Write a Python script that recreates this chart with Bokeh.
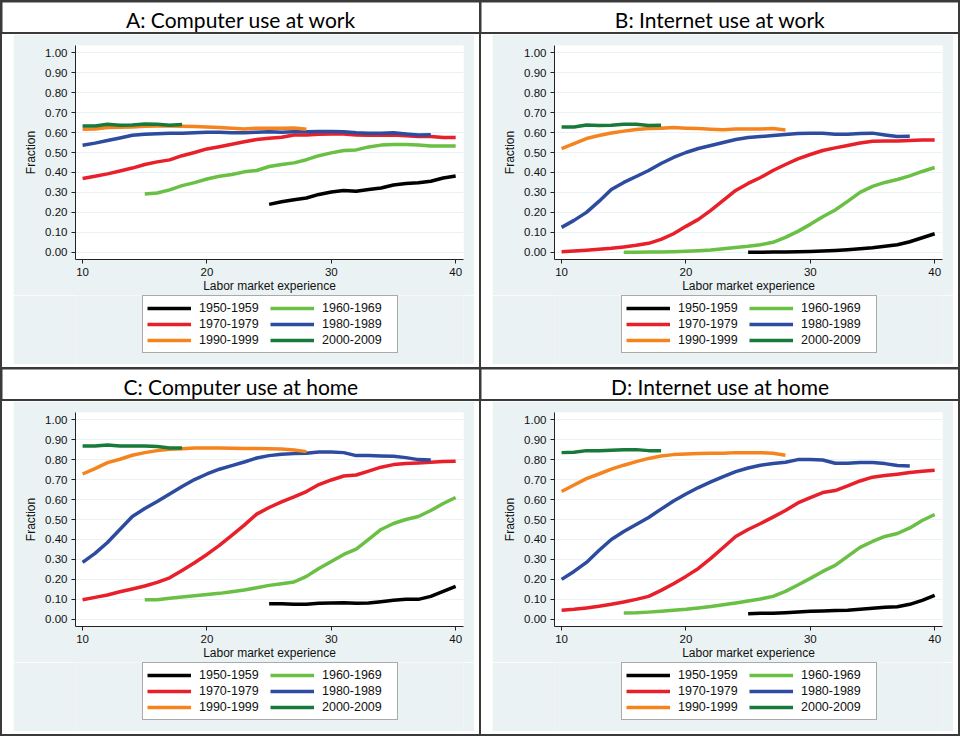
from bokeh.plotting import figure
from bokeh.models import Range1d, Legend, LegendItem, FixedTicker, NumeralTickFormatter, Column, Row
from bokeh.core.properties import value
from bokeh.embed import file_html
from bokeh.resources import INLINE

cohorts = ["1950-1959", "1960-1969", "1970-1979", "1980-1989", "1990-1999", "2000-2009"]
colors = ["#000000", "#6ABF45", "#E8202A", "#2D4B9F", "#F5841F", "#177A3A"]
legend_order = [0, 2, 4, 1, 3, 5]  # fills the 2-column legend row by row

exp_50s = list(range(25, 41))
exp_60s = list(range(15, 41))
exp_70s = list(range(10, 41))
exp_80s = list(range(10, 39))
exp_90s = list(range(10, 29))
exp_00s = list(range(10, 19))

x_ticks = [10, 20, 30, 40]
y_ticks = [0.0, 0.1, 0.2, 0.3, 0.4, 0.5, 0.6, 0.7, 0.8, 0.9, 1.0]

# A: Computer use at work
a50 = [.240, .253, .263, .272, .290, .302, .310, .306, .315, .322, .337, .345, .348, .356, .372, .382]
a60 = [.292, .297, .313, .334, .349, .367, .381, .390, .403, .410, .430, .440, .448, .464, .484, .498,
       .510, .513, .528, .537, .540, .540, .537, .532, .532, .532]
a70 = [.370, .381, .393, .407, .422, .440, .453, .463, .484, .500, .518, .529, .541, .554, .565, .571,
       .576, .588, .588, .591, .593, .593, .588, .586, .586, .588, .584, .580, .580, .575, .575]
a80 = [.536, .547, .560, .573, .586, .591, .594, .596, .596, .599, .602, .602, .599, .599, .602, .604,
       .602, .604, .604, .605, .605, .604, .599, .597, .597, .599, .593, .588, .589]
a90 = [.617, .618, .625, .627, .628, .631, .633, .633, .631, .630, .628, .625, .622, .618, .622, .622,
       .622, .623, .617]
a00 = [.633, .633, .641, .636, .638, .643, .641, .636, .640]

# B: Internet use at work
b50 = [.000, .000, .001, .002, .003, .004, .006, .009, .013, .018, .023, .030, .038, .053, .073, .093]
b60 = [.000, .000, .001, .002, .003, .005, .008, .012, .018, .024, .030, .038, .050, .075, .105, .140,
       .178, .212, .255, .300, .330, .350, .365, .383, .405, .425]
b70 = [.003, .006, .010, .015, .020, .027, .035, .045, .065, .093, .130, .165, .210, .260, .310, .345,
       .375, .410, .440, .468, .490, .510, .523, .535, .548, .556, .558, .558, .560, .562, .562]
b80 = [.125, .160, .200, .255, .315, .350, .380, .410, .445, .475, .500, .520, .535, .550, .565, .575,
       .580, .585, .590, .595, .597, .597, .592, .592, .595, .597, .588, .580, .582]
b90 = [.520, .545, .570, .585, .598, .607, .615, .620, .622, .625, .622, .620, .617, .614, .618, .618,
       .618, .620, .613]
b00 = [.628, .628, .638, .635, .637, .642, .642, .635, .637]

# C: Computer use at home
c50 = [.078, .078, .075, .075, .080, .082, .083, .080, .082, .088, .095, .100, .100, .115, .140, .165]
c60 = [.098, .098, .105, .112, .118, .124, .130, .138, .147, .158, .170, .178, .187, .215, .255, .290,
       .325, .352, .400, .450, .480, .500, .515, .545, .580, .610]
c70 = [.098, .110, .122, .138, .152, .167, .185, .208, .245, .283, .325, .370, .420, .472, .527, .560,
       .588, .613, .640, .675, .698, .718, .723, .742, .762, .775, .780, .783, .787, .790, .792]
c80 = [.285, .330, .385, .450, .515, .555, .590, .628, .665, .700, .728, .752, .770, .788, .808, .820,
       .827, .830, .832, .838, .838, .835, .820, .820, .818, .817, .810, .800, .798]
c90 = [.728, .755, .785, .802, .822, .835, .845, .852, .855, .858, .858, .858, .857, .856, .856, .855,
       .853, .848, .840]
c00 = [.868, .868, .873, .868, .868, .868, .866, .858, .858]

# D: Internet use at home
d50 = [.028, .030, .030, .033, .037, .040, .042, .044, .046, .050, .055, .060, .063, .075, .095, .120]
d60 = [.032, .033, .036, .040, .045, .050, .057, .064, .073, .082, .092, .102, .115, .140, .172, .205,
       .240, .270, .315, .360, .390, .415, .430, .458, .495, .525]
d70 = [.045, .050, .057, .065, .075, .087, .100, .115, .145, .178, .215, .255, .305, .360, .415, .450,
       .480, .512, .545, .583, .610, .635, .645, .668, .693, .712, .720, .727, .735, .742, .747]
d80 = [.200, .240, .285, .345, .400, .440, .475, .510, .552, .593, .628, .660, .688, .715, .740, .758,
       .772, .780, .787, .800, .800, .798, .782, .782, .785, .785, .780, .770, .768]
d90 = [.640, .673, .705, .728, .752, .772, .790, .806, .818, .825, .828, .830, .832, .832, .835, .835,
       .835, .832, .822]
d00 = [.835, .837, .845, .845, .847, .850, .850, .845, .845]

titles = ["A: Computer use at work", "B: Internet use at work",
          "C: Computer use at home", "D: Internet use at home"]
panel_data = [[a50, a60, a70, a80, a90, a00],
              [b50, b60, b70, b80, b90, b00],
              [c50, c60, c70, c80, c90, c00],
              [d50, d60, d70, d80, d90, d00]]
exps = [exp_50s, exp_60s, exp_70s, exp_80s, exp_90s, exp_00s]

PANEL_W = 477
TITLE_H = 30
CHART_H = 333
INNER_W = PANEL_W - 16
PLOT_H = 261
LEG_H = CHART_H - 3 - PLOT_H
BG = "#EAF2F3"
FONT = "Liberation Sans"
LINE_W = 3.5
NAN = float("nan")


def make_title(text):
    t = figure(width=PANEL_W, height=TITLE_H, x_range=Range1d(0, 1), y_range=Range1d(0, 1),
               x_axis_type=None, y_axis_type=None, min_border=0, outline_line_color=None,
               background_fill_color="white", border_fill_color="white",
               output_backend="svg", toolbar_location=None)
    t.grid.visible = False
    t.text(x=[0.5], y=[0.45], text=[text], text_align="center", text_baseline="middle",
           text_font=value("Lato"), text_font_size="21px", text_color="#000000")
    return t


def make_chart(series):
    p = figure(width=INNER_W, height=PLOT_H,
               x_range=Range1d(9.43, 40.63), y_range=Range1d(-0.036, 1.036),
               min_border_left=62, min_border_right=11, min_border_top=11, min_border_bottom=36,
               background_fill_color="white", border_fill_color=BG, outline_line_color=None,
               output_backend="svg", toolbar_location=None, margin=(0, 5, 0, 11))
    p.xgrid.visible = False
    p.ygrid.ticker = FixedTicker(ticks=y_ticks)
    p.ygrid.grid_line_color = BG
    p.ygrid.grid_line_width = 1

    p.xaxis.ticker = FixedTicker(ticks=x_ticks)
    p.yaxis.ticker = FixedTicker(ticks=y_ticks)
    p.yaxis.formatter = NumeralTickFormatter(format="0.00")
    p.xaxis.axis_label = "Labor market experience"
    p.yaxis.axis_label = "Fraction"
    for ax in (p.xaxis[0], p.yaxis[0]):
        ax.axis_line_color = "#222222"
        ax.major_tick_line_color = "#222222"
        ax.minor_tick_line_color = None
        ax.major_tick_in = 0
        ax.major_tick_out = 4
        ax.major_label_text_font = FONT
        ax.major_label_text_font_size = "11.5px"
        ax.major_label_text_color = "#111111"
        ax.axis_label_text_font = FONT
        ax.axis_label_text_font_size = "12px"
        ax.axis_label_text_font_style = "normal"
        ax.axis_label_text_color = "#111111"
    p.yaxis.major_label_standoff = 4
    p.yaxis.axis_label_standoff = 4
    p.xaxis.major_label_standoff = 4
    p.xaxis.axis_label_standoff = 0

    for xs, ys, col in zip(exps, series, colors):
        p.line(xs, ys, line_color=col, line_width=LINE_W, line_join="round")
    return p


def make_legend_fig():
    lf = figure(width=INNER_W, height=LEG_H, x_range=Range1d(0, 1), y_range=Range1d(0, 1),
                x_axis_type=None, y_axis_type=None, min_border=0, outline_line_color=None,
                background_fill_color=BG, border_fill_color=BG,
                output_backend="svg", toolbar_location=None, margin=(0, 5, 3, 11))
    lf.grid.visible = False
    rends = []
    for col in colors:
        rends.append(lf.line([NAN], [NAN], line_color=col, line_width=LINE_W))
    items = [LegendItem(label=cohorts[i], renderers=[rends[i]]) for i in legend_order]
    leg = Legend(items=items, ncols=2, location=(67, 11),
                 border_line_color="#555555", border_line_width=1.2,
                 background_fill_color="white", background_fill_alpha=1,
                 label_text_font=FONT, label_text_font_size="12.5px", label_text_color="#111111",
                 glyph_width=44, glyph_height=16, label_height=16, label_width=71,
                 label_standoff=8, spacing=0, padding=4, margin=0)
    lf.add_layout(leg, "center")
    return lf


panels = []
for title, series in zip(titles, panel_data):
    t = make_title(title)
    ch = make_chart(series)
    lf = make_legend_fig()
    box = Column(children=[ch, lf], spacing=0, styles={"background-color": "white"})
    panels.append(Column(children=[t, box], spacing=2))

row1 = Row(children=[panels[0], panels[1]], spacing=2)
row2 = Row(children=[panels[2], panels[3]], spacing=2)
outer = Column(children=[row1, row2], spacing=2,
               styles={"background-color": "#3a3a3a", "padding": "2px"})

open("out.html", "w").write(file_html(outer, INLINE))
